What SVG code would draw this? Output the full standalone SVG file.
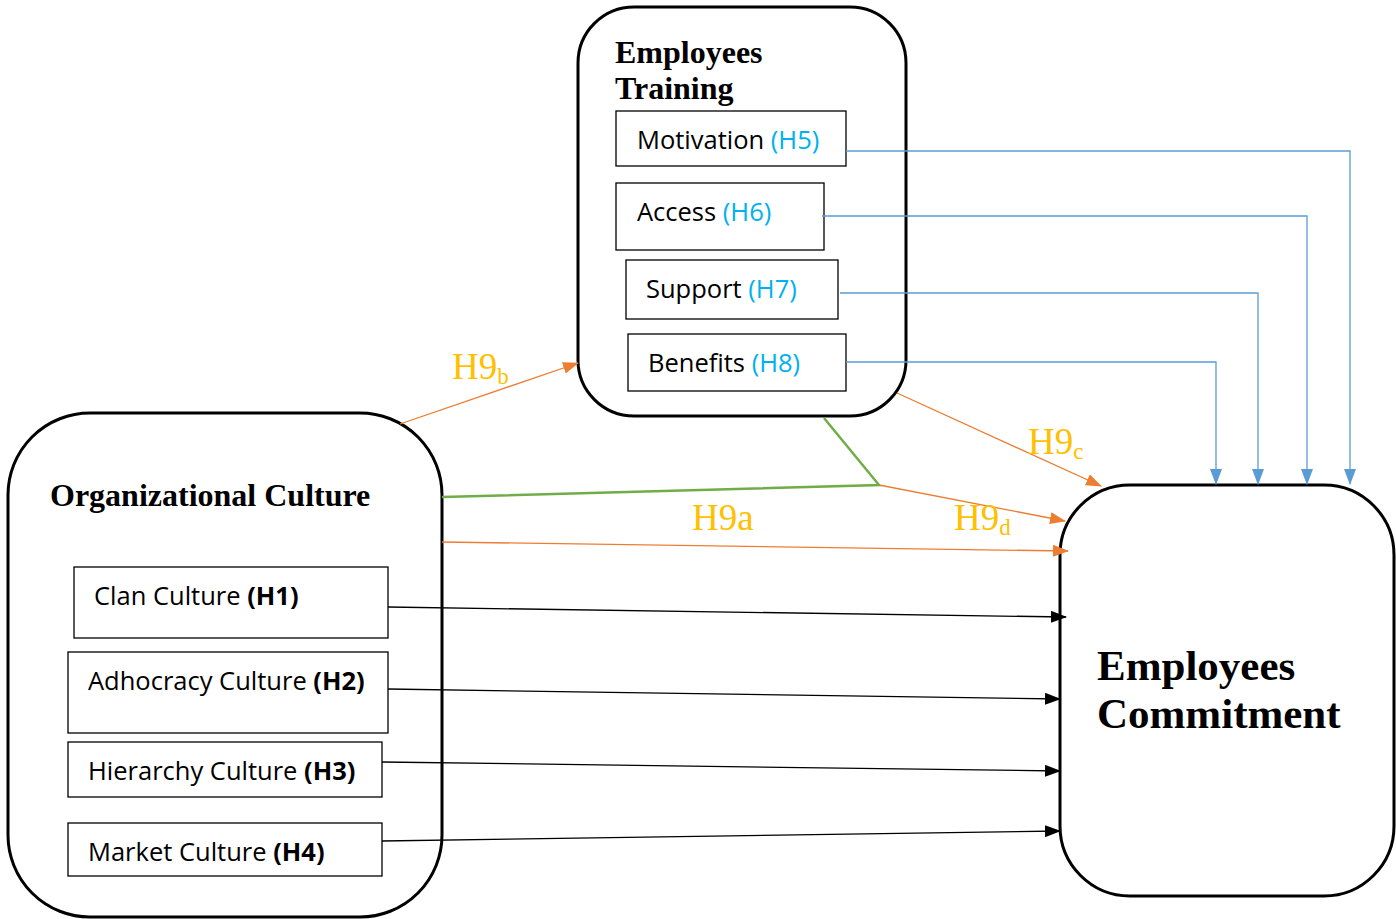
<svg xmlns="http://www.w3.org/2000/svg" width="1396" height="919" viewBox="0 0 1396 919">
<style>
.big{fill:none;stroke:#000;stroke-width:3}
.box{fill:#fff;stroke:#000;stroke-width:1.3}
.t{font-family:"Open Sans","Liberation Sans",sans-serif;font-size:25.5px;fill:#000}
.b{font-weight:bold}
.h{fill:#00B0F0}
.title{font-family:"Liberation Serif",serif;font-weight:bold;fill:#000}
.lab{font-family:"Liberation Serif",serif;font-size:37px;fill:#FFC000}
.sub{font-size:23px}
.blue{fill:none;stroke:#5B9BD5;stroke-width:1.3}
.or{fill:none;stroke:#ED7D31;stroke-width:1.3}
.bk{fill:none;stroke:#000;stroke-width:1.3}
.gr{fill:none;stroke:#70AD47;stroke-width:2.5}
</style>
<defs>
<marker id="mb" markerWidth="16" markerHeight="12" refX="15" refY="6" orient="auto" markerUnits="userSpaceOnUse"><path d="M0,0 L16,6 L0,12 Z" fill="#5B9BD5"/></marker>
<marker id="mo" markerWidth="16" markerHeight="12" refX="15" refY="6" orient="auto" markerUnits="userSpaceOnUse"><path d="M0,0 L16,6 L0,12 Z" fill="#ED7D31"/></marker>
<marker id="mk" markerWidth="16" markerHeight="12" refX="15" refY="6" orient="auto" markerUnits="userSpaceOnUse"><path d="M0,0 L16,6 L0,12 Z" fill="#000"/></marker>
</defs>
<rect width="1396" height="919" fill="#fff"/>
<g id="training">
<rect class="big" x="578" y="7" width="328" height="409" rx="56"/>
<text class="title" x="615" y="63" font-size="32">Employees</text>
<text class="title" x="615" y="99" font-size="32">Training</text>
</g>
<g id="motivation"><rect class="box" x="616" y="111" width="230" height="55"/><text class="t" x="637" y="149">Motivation <tspan class="h">(H5)</tspan></text></g>
<g id="access"><rect class="box" x="616" y="183" width="208" height="67"/><text class="t" x="637" y="221">Access <tspan class="h">(H6)</tspan></text></g>
<g id="support"><rect class="box" x="626" y="260" width="212" height="59"/><text class="t" x="646" y="298">Support <tspan class="h">(H7)</tspan></text></g>
<g id="benefits"><rect class="box" x="628" y="334" width="218" height="57"/><text class="t" x="648" y="372">Benefits <tspan class="h">(H8)</tspan></text></g>
<g id="orgculture">
<rect class="big" x="8" y="413" width="434" height="504" rx="82"/>
<text class="title" x="50" y="506" font-size="32">Organizational Culture</text>
</g>
<g id="clan"><rect class="box" x="74" y="567" width="314" height="71"/><text class="t" x="94" y="605">Clan Culture <tspan class="b">(H1)</tspan></text></g>
<g id="adhocracy"><rect class="box" x="68" y="652" width="320" height="81"/><text class="t" x="88" y="690">Adhocracy Culture <tspan class="b">(H2)</tspan></text></g>
<g id="hierarchy"><rect class="box" x="68" y="742" width="314" height="55"/><text class="t" x="88" y="780">Hierarchy Culture <tspan class="b">(H3)</tspan></text></g>
<g id="market"><rect class="box" x="68" y="823" width="314" height="53"/><text class="t" x="88" y="861">Market Culture <tspan class="b">(H4)</tspan></text></g>
<g id="commitment">
<rect class="big" x="1060" y="485" width="334" height="411" rx="70"/>
<text class="title" x="1097" y="680" font-size="43">Employees</text>
<text class="title" x="1097" y="728" font-size="43">Commitment</text>
</g>
<g id="connectors">
<polyline class="blue" points="846,151 1350,151 1350,484" marker-end="url(#mb)"/>
<polyline class="blue" points="822,216 1307,216 1307,484" marker-end="url(#mb)"/>
<polyline class="blue" points="840,293 1258,293 1258,484" marker-end="url(#mb)"/>
<polyline class="blue" points="846,362 1216,362 1216,484" marker-end="url(#mb)"/>
<line class="or" x1="400" y1="424" x2="578" y2="363" marker-end="url(#mo)"/>
<line class="or" x1="897" y1="393" x2="1101" y2="486" marker-end="url(#mo)"/>
<polyline class="gr" points="442,497 879,485 824,418"/>
<line class="or" x1="879" y1="485" x2="1065" y2="521" marker-end="url(#mo)"/>
<line class="or" x1="442" y1="542" x2="1068" y2="551" marker-end="url(#mo)"/>
<line class="bk" x1="388" y1="607" x2="1066" y2="617" marker-end="url(#mk)"/>
<line class="bk" x1="388" y1="689" x2="1060" y2="699" marker-end="url(#mk)"/>
<line class="bk" x1="382" y1="762" x2="1060" y2="771" marker-end="url(#mk)"/>
<line class="bk" x1="382" y1="841" x2="1060" y2="831" marker-end="url(#mk)"/>
</g>
<g id="labels">
<text class="lab" x="452" y="379">H9<tspan class="sub" dy="5">b</tspan></text>
<text class="lab" x="1028" y="454">H9<tspan class="sub" dy="5">c</tspan></text>
<text class="lab" x="692" y="530">H9a</text>
<text class="lab" x="954" y="530">H9<tspan class="sub" dy="5">d</tspan></text>
</g>
</svg>
